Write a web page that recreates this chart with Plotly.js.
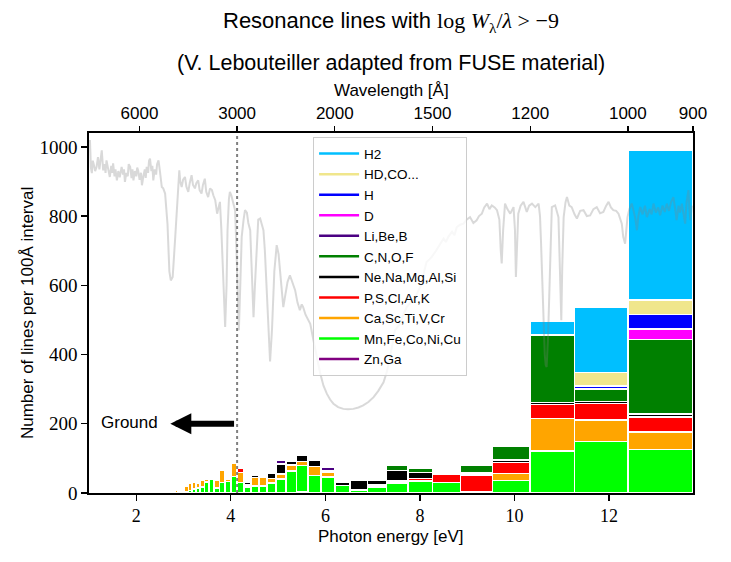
<!DOCTYPE html>
<html>
<head>
<meta charset="utf-8">
<script src="https://cdn.plot.ly/plotly-3.0.1.min.js"></script>
<style>html,body{margin:0;padding:0;background:#fff;}#chart{width:731px;height:562px;}</style>
</head>
<body>
<div id="chart"></div>
<script>
// ---- data ----
const HC = 12398.42; // eV * Angstrom
// lower edge of each 100 Angstrom wavelength bin
const binStart = [900,1000,1100,1200,1300,1400,1500,1600,1700,1800,1900,2000,2100,2200,2300,2400,2500,2600,2700,2800,2900,3000,3100,3200,3300,3400,3500,3600,3700,3800,3900,4000,4100,4200,4300,4400,4500,4600,4700,4800];
const groupNames = ['H2','HD,CO...','H','D','Li,Be,B','C,N,O,F','Ne,Na,Mg,Al,Si','P,S,Cl,Ar,K','Ca,Sc,Ti,V,Cr','Mn,Fe,Co,Ni,Cu','Zn,Ga'];
const groupColors = ['#00bfff','#f0e68c','#0000ff','#ff00ff','#4b0082','#008000','#000000','#ff0000','#ffa500','#00ff00','#800080'];
const nH2  = [433,190,41,0,0,0,0,0,0,0,0,0,0,0,0,0,0,0,0,0,0,0,0,0,0,0,0,0,0,0,0,0,0,0,0,0,0,0,0,0];
const nHD  = [42,39,0,0,0,0,0,0,0,0,0,0,0,0,0,0,0,0,0,0,0,0,0,0,0,0,0,0,0,0,0,0,0,0,0,0,0,0,0,0];
const nH   = [42,8,0,0,0,0,0,0,0,0,0,0,0,0,0,0,0,0,0,0,0,0,0,0,0,0,0,0,0,0,0,0,0,0,0,0,0,0,0,0];
const nD   = [30,0,0,0,0,0,0,0,0,0,0,0,0,0,0,0,0,0,0,0,0,0,0,0,0,0,0,0,0,0,0,0,0,0,0,0,0,0,0,0];
const nLi  = [0,0,0,0,0,0,0,0,0,0,0,8,0,0,0,12,0,0,0,0,0,0,0,0,0,0,0,0,0,0,0,0,0,0,0,0,0,0,0,0];
const nC   = [216,36,194,40,21,0,12,15,0,0,0,0,0,0,0,0,0,0,0,0,0,0,0,0,0,0,0,0,0,0,0,0,0,0,0,0,0,0,0,0];
const nNe  = [9,7,7,8,6,0,17,31,15,29,10,4,17,19,12,29,16,5,5,8,0,0,0,0,0,0,0,0,0,0,0,0,0,0,0,0,0,0,0,0];
const nP   = [43,47,40,32,48,24,7,5,5,0,0,0,0,0,0,0,0,0,0,0,13,0,0,0,0,0,0,0,0,0,0,0,0,0,0,0,0,0,0,0];
const nCa  = [50,62,94,20,0,0,0,0,0,0,0,15,27,11,17,15,13,26,25,6,28,37,7,35,24,0,8,19,13,20,21,14,2,6,6,3,0,0,0,3];
const nMn  = [126,149,121,36,4,30,35,29,18,8,22,46,50,76,64,40,29,20,20,17,31,48,33,30,14,40,32,17,15,11,7,5,0,0,1,2,0,0,0,0];
const nZn  = [0,0,0,0,0,0,0,0,0,0,0,0,0,4,0,0,0,0,0,0,0,0,0,0,0,0,0,0,0,0,0,0,0,0,0,0,0,0,0,0];
const groupCounts = [nH2,nHD,nH,nD,nLi,nC,nNe,nP,nCa,nMn,nZn];

// background spectrum (photon energy [eV], intensity on the count scale)
const specE = [1.02,1.04,1.06,1.08,1.10,1.13,1.16,1.19,1.22,1.25,1.27,1.30,1.33,1.35,1.37,1.40,1.42,1.44,1.47,1.49,1.51,1.54,1.56,1.59,1.62,1.65,1.69,1.72,1.74,1.76,1.79,1.82,1.84,1.87,1.90,1.92,1.94,1.97,2.00,2.02,2.04,2.07,2.10,2.12,2.15,2.18,2.20,2.22,2.25,2.27,2.29,2.32,2.34,2.36,2.39,2.42,2.44,2.47,2.50,2.52,2.54,2.57,2.61,2.66,2.70,2.73,2.77,2.82,2.87,2.91,2.93,2.96,2.99,3.03,3.06,3.10,3.13,3.17,3.20,3.24,3.27,3.31,3.34,3.38,3.41,3.45,3.48,3.52,3.56,3.60,3.63,3.67,3.71,3.74,3.77,3.80,3.83,3.86,3.88,3.91,3.93,3.96,3.98,4.01,4.04,4.07,4.09,4.12,4.14,4.17,4.20,4.23,4.27,4.30,4.34,4.37,4.41,4.44,4.48,4.51,4.55,4.58,4.62,4.65,4.69,4.72,4.76,4.80,4.83,4.87,4.92,4.97,5.01,5.04,5.08,5.11,5.15,5.20,5.25,5.30,5.36,5.41,5.46,5.50,5.53,5.58,5.63,5.68,5.75,5.82,5.89,5.96,6.03,6.10,6.17,6.27,6.38,6.48,6.59,6.70,6.80,6.91,7.02,7.12,7.23,7.30,7.37,7.42,7.47,7.52,7.58,7.65,7.72,7.80,7.90,7.97,8.04,8.09,8.14,8.20,8.25,8.34,8.43,8.50,8.55,8.60,8.68,8.73,8.78,8.85,8.92,8.99,9.06,9.13,9.20,9.25,9.31,9.36,9.42,9.47,9.52,9.58,9.63,9.68,9.71,9.73,9.76,9.80,9.85,9.91,9.98,10.01,10.03,10.05,10.08,10.13,10.19,10.26,10.31,10.37,10.44,10.51,10.54,10.56,10.59,10.61,10.64,10.66,10.68,10.71,10.74,10.76,10.79,10.86,10.90,10.93,10.96,10.99,11.01,11.04,11.08,11.11,11.16,11.21,11.27,11.32,11.39,11.46,11.53,11.60,11.67,11.74,11.81,11.88,11.94,11.99,12.04,12.09,12.15,12.20,12.27,12.30,12.34,12.36,12.39,12.43,12.48,12.52,12.56,12.59,12.62,12.66,12.71,12.76,12.80,12.86,12.90,12.94,12.99,13.04,13.08,13.13,13.18,13.22,13.27,13.31,13.36,13.40,13.43,13.47,13.50,13.54,13.58,13.61,13.64,13.68,13.70,13.72,13.75];
const specY = [1020,940,924,960,950,930,942,970,935,975,990,932,950,925,961,940,920,913,945,925,952,915,935,903,930,912,942,920,935,899,925,915,950,942,910,935,903,930,915,940,932,905,925,889,915,935,910,942,925,960,966,930,945,903,935,920,950,961,930,900,884,880,865,778,640,614,624,730,846,932,900,884,905,913,885,870,895,918,890,880,895,903,875,865,890,908,870,855,880,875,860,846,807,830,841,760,663,520,480,600,759,850,870,860,846,830,817,700,566,470,600,740,790,817,810,780,759,640,508,600,740,790,793,775,759,700,586,450,380,470,640,716,690,643,580,537,570,610,629,610,586,550,528,545,537,515,500,489,440,390,346,310,287,270,258,248,243,242,243,247,253,263,277,295,320,350,393,430,470,480,489,515,537,550,566,585,605,640,667,675,682,700,720,735,725,740,755,745,768,775,778,790,797,780,788,800,807,825,836,820,831,825,817,790,700,663,760,836,820,807,826,760,624,720,807,830,841,812,830,836,826,836,800,730,600,480,400,370,364,450,586,720,826,831,815,797,650,499,650,797,840,855,830,826,805,793,815,817,800,802,820,826,808,812,830,841,825,817,815,807,778,740,720,760,797,820,836,815,790,759,800,826,805,830,797,820,805,836,810,825,802,830,812,836,815,840,855,820,788,830,810,836,800,778,840,875,820,788,830];

const topTickWl = [6000,3000,2000,1500,1200,1000,900];
const groundWl = 3000;

// ---- build ----
const binCenter = binStart.map(l => (HC/l + HC/(l+100))/2);
const binWidth  = binStart.map(l => HC/l - HC/(l+100));
const traces = [];
for (let g = groupNames.length-1; g >= 0; g--) {
  traces.push({type:'bar', x:binCenter, y:groupCounts[g], width:binWidth,
    marker:{color:groupColors[g], line:{color:'#ffffff', width:1.5}},
    showlegend:false, hoverinfo:'skip', name:groupNames[g]});
}
traces.push({type:'scatter', mode:'lines', x:specE, y:specY,
  line:{color:'rgba(128,128,128,0.3)', width:2}, showlegend:false, hoverinfo:'skip'});
for (let g = 0; g < groupNames.length; g++) {
  traces.push({type:'scatter', mode:'lines', x:[null], y:[null], name:groupNames[g],
    line:{color:groupColors[g], width:2.5}, showlegend:true});
}
traces.push({type:'scatter', mode:'lines', x:[null], y:[null], xaxis:'x2', showlegend:false, hoverinfo:'skip'});

const sans = 'Liberation Sans, Arial, sans-serif';
const serif = 'Liberation Serif, Times New Roman, serif';
const xr = [1.0, HC/900];
const layout = {
  width:731, height:562,
  margin:{l:89, r:38, t:133, b:69},
  paper_bgcolor:'#ffffff', plot_bgcolor:'#ffffff',
  barmode:'stack', showlegend:true,
  xaxis:{range:xr, dtick:2, tick0:0, showgrid:false, zeroline:false,
    showline:true, mirror:true, linecolor:'#000', linewidth:1.6,
    ticks:'outside', ticklen:6, tickwidth:1.3, tickcolor:'#000',
    tickfont:{family:serif, size:18, color:'#000'}},
  xaxis2:{range:xr, overlaying:'x', anchor:'y', side:'top',
    tickvals:topTickWl.map(l => HC/l), ticktext:topTickWl.map(String),
    showgrid:false, zeroline:false, showline:false,
    ticks:'outside', ticklen:6, tickwidth:1.3, tickcolor:'#000',
    tickfont:{family:sans, size:17, color:'#000'}},
  yaxis:{range:[0,1040], tickvals:[0,200,400,600,800,1000], showgrid:false, zeroline:false,
    showline:true, mirror:true, linecolor:'#000', linewidth:1.6,
    ticks:'outside', ticklen:6, tickwidth:1.3, tickcolor:'#000',
    tickfont:{family:serif, size:19, color:'#000'}},
  legend:{x:0.371, y:0.988, xanchor:'left', yanchor:'top', traceorder:'normal', itemwidth:40,
    bgcolor:'rgba(255,255,255,0.8)', bordercolor:'#cccccc', borderwidth:1,
    font:{family:sans, size:13.5, color:'#000'}},
  shapes:[{type:'line', xref:'x', yref:'paper', x0:HC/groundWl, x1:HC/groundWl, y0:0, y1:1,
    line:{color:'#808080', width:2, dash:'dot'}, layer:'above'}],
  annotations:[
    {xref:'paper', yref:'paper', x:0.5, y:1.3076, xanchor:'center', yanchor:'middle', showarrow:false,
     text:'Resonance lines with <span style="font-family:Liberation Serif">log <i>W</i><sub>λ</sub>/<i>λ</i> &gt; −9</span>',
     font:{family:sans, size:22, color:'#000'}},
    {xref:'paper', yref:'paper', x:0.5, y:1.1937, xanchor:'center', yanchor:'middle', showarrow:false,
     text:'(V. Lebouteiller adapted from FUSE material)', font:{family:sans, size:21.5, color:'#000'}},
    {xref:'paper', yref:'paper', x:0.5, y:1.1186, xanchor:'center', yanchor:'middle', showarrow:false,
     text:'Wavelength [Å]', font:{family:sans, size:17, color:'#000'}},
    {xref:'paper', yref:'paper', x:0.5, y:-0.1206, xanchor:'center', yanchor:'middle', showarrow:false,
     text:'Photon energy [eV]', font:{family:sans, size:17, color:'#000'}},
    {xref:'paper', yref:'paper', x:-0.1026, y:0.5, xanchor:'center', yanchor:'middle', showarrow:false,
     textangle:-90, text:'Number of lines per 100Å interval', font:{family:sans, size:17, color:'#000'}},
    {xref:'x', yref:'y', x:2.72, y:200, axref:'x', ayref:'y', ax:4.10, ay:200, text:'',
     showarrow:true, arrowhead:2, arrowsize:0.7, arrowwidth:6, arrowcolor:'#000', standoff:0, startstandoff:0},
    {xref:'x', yref:'y', x:1.85, y:204, xanchor:'center', yanchor:'middle', showarrow:false,
     text:'Ground', font:{family:sans, size:17, color:'#000'}}
  ]
};
Plotly.newPlot('chart', traces, layout, {staticPlot:true, displayModeBar:false});
</script>
</body>
</html>
